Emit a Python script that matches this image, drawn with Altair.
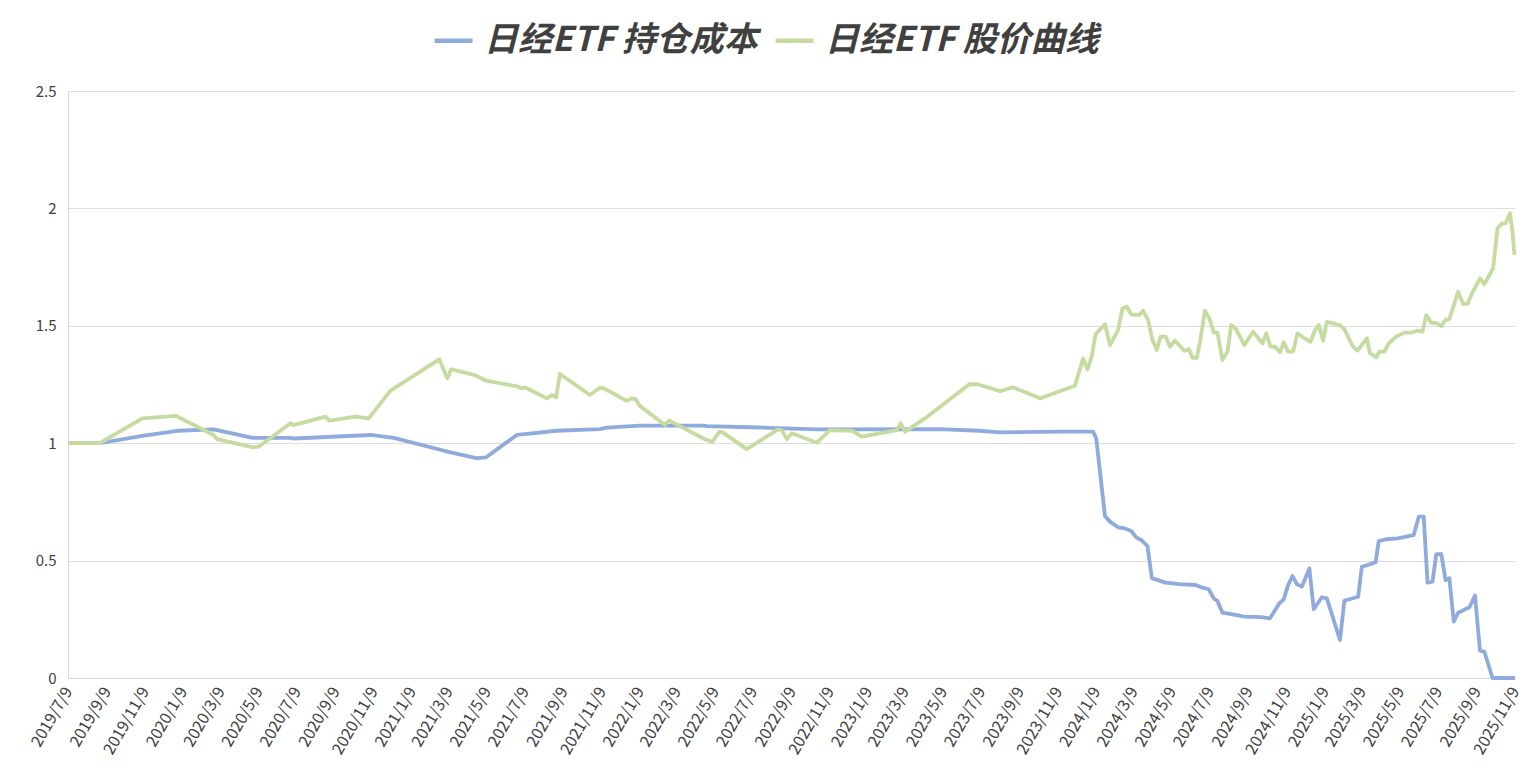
import altair as alt
import pandas as pd

series_names = ["日经ETF 持仓成本", "日经ETF 股价曲线"]
series_colors = ["#8FAADC", "#C5DBA0"]

cost_dates = [
    "2019-07-09", "2019-08-29", "2019-11-05", "2019-12-31", "2020-02-27", "2020-04-29",
    "2020-06-29", "2020-07-04", "2020-11-04", "2020-12-11", "2021-02-27", "2021-03-07",
    "2021-04-22", "2021-05-08", "2021-06-26", "2021-07-12", "2021-08-29", "2021-11-06",
    "2021-11-17", "2022-01-09", "2022-04-20", "2022-04-26", "2022-07-04", "2022-10-19",
    "2023-05-03", "2023-07-06", "2023-08-08", "2023-11-12", "2024-01-04", "2024-01-09",
    "2024-01-23", "2024-01-31", "2024-02-13", "2024-02-24", "2024-03-05", "2024-03-13",
    "2024-03-21", "2024-03-31", "2024-04-07", "2024-04-13", "2024-04-29", "2024-05-21",
    "2024-06-16", "2024-06-25", "2024-07-07", "2024-07-15", "2024-07-21", "2024-07-29",
    "2024-08-14", "2024-09-02", "2024-09-29", "2024-10-13", "2024-10-28", "2024-11-04",
    "2024-11-11", "2024-11-18", "2024-11-25", "2024-12-03", "2024-12-15", "2024-12-22",
    "2025-01-04", "2025-01-12", "2025-02-02", "2025-02-09", "2025-03-03", "2025-03-09",
    "2025-03-24", "2025-03-31", "2025-04-05", "2025-04-17", "2025-05-05", "2025-05-19",
    "2025-05-31", "2025-06-08", "2025-06-16", "2025-06-22", "2025-06-30", "2025-07-06",
    "2025-07-14", "2025-07-21", "2025-07-27", "2025-08-03", "2025-08-10", "2025-08-28",
    "2025-09-06", "2025-09-14", "2025-09-21", "2025-10-04", "2025-11-09",
]
cost_values = [
    1.0, 1.0, 1.031, 1.053, 1.059, 1.023,
    1.023, 1.020, 1.035, 1.023, 0.970, 0.964,
    0.936, 0.940, 1.035, 1.040, 1.053, 1.060,
    1.066, 1.075, 1.075, 1.073, 1.068, 1.059,
    1.060, 1.053, 1.046, 1.049, 1.049, 1.021,
    0.690, 0.666, 0.642, 0.637, 0.626, 0.599,
    0.588, 0.562, 0.425, 0.420, 0.406, 0.400,
    0.396, 0.386, 0.378, 0.339, 0.328, 0.278,
    0.271, 0.261, 0.259, 0.254, 0.318, 0.335,
    0.396, 0.434, 0.400, 0.389, 0.467, 0.293,
    0.344, 0.339, 0.162, 0.329, 0.346, 0.474,
    0.486, 0.493, 0.583, 0.591, 0.595, 0.602,
    0.609, 0.687, 0.687, 0.406, 0.410, 0.527,
    0.528, 0.417, 0.425, 0.240, 0.278, 0.301,
    0.351, 0.116, 0.112, 0.0, 0.0,
]

price_dates = [
    "2019-07-09", "2019-08-29", "2019-11-05", "2019-12-29", "2020-02-27", "2020-03-03",
    "2020-04-29", "2020-05-09", "2020-06-29", "2020-07-04", "2020-08-24", "2020-08-30",
    "2020-10-11", "2020-11-01", "2020-12-06", "2021-02-22", "2021-03-07", "2021-03-13",
    "2021-04-20", "2021-05-08", "2021-06-28", "2021-07-03", "2021-07-09", "2021-08-13",
    "2021-08-21", "2021-08-28", "2021-09-03", "2021-10-21", "2021-11-06", "2021-11-12",
    "2021-12-19", "2021-12-27", "2022-01-02", "2022-01-09", "2022-02-18", "2022-02-25",
    "2022-04-23", "2022-05-05", "2022-05-16", "2022-05-22", "2022-06-29", "2022-08-18",
    "2022-08-24", "2022-09-01", "2022-09-09", "2022-10-19", "2022-11-09", "2022-12-14",
    "2022-12-30", "2023-02-24", "2023-03-02", "2023-03-09", "2023-04-12", "2023-06-20",
    "2023-07-03", "2023-08-08", "2023-08-29", "2023-10-11", "2023-12-06", "2023-12-19",
    "2023-12-26", "2024-01-02", "2024-01-08", "2024-01-23", "2024-01-31", "2024-02-13",
    "2024-02-20", "2024-02-27", "2024-03-05", "2024-03-18", "2024-03-24", "2024-04-01",
    "2024-04-08", "2024-04-15", "2024-04-21", "2024-04-29", "2024-05-06", "2024-05-14",
    "2024-05-29", "2024-06-05", "2024-06-11", "2024-06-18", "2024-06-23", "2024-07-01",
    "2024-07-08", "2024-07-15", "2024-07-21", "2024-07-29", "2024-08-06", "2024-08-12",
    "2024-08-19", "2024-09-02", "2024-09-16", "2024-10-01", "2024-10-07", "2024-10-14",
    "2024-10-21", "2024-10-29", "2024-11-04", "2024-11-11", "2024-11-19", "2024-11-26",
    "2024-12-06", "2024-12-17", "2024-12-24", "2024-12-30", "2025-01-06", "2025-01-12",
    "2025-02-01", "2025-02-09", "2025-02-22", "2025-03-02", "2025-03-17", "2025-03-22",
    "2025-04-01", "2025-04-06", "2025-04-14", "2025-04-21", "2025-05-03", "2025-05-16",
    "2025-05-27", "2025-06-06", "2025-06-14", "2025-06-20", "2025-06-28", "2025-07-06",
    "2025-07-14", "2025-07-21", "2025-07-27", "2025-08-10", "2025-08-18", "2025-08-25",
    "2025-09-03", "2025-09-14", "2025-09-21", "2025-10-05", "2025-10-12", "2025-10-19",
    "2025-10-25", "2025-11-01", "2025-11-05", "2025-11-08",
]
price_values = [
    1.0, 1.0, 1.106, 1.116, 1.035, 1.017,
    0.983, 0.985, 1.085, 1.077, 1.113, 1.096,
    1.113, 1.106, 1.224, 1.357, 1.276, 1.315,
    1.290, 1.266, 1.241, 1.234, 1.238, 1.191,
    1.205, 1.196, 1.295, 1.205, 1.236, 1.234,
    1.180, 1.191, 1.188, 1.158, 1.078, 1.096,
    1.017, 1.006, 1.049, 1.045, 0.975, 1.059,
    1.056, 1.017, 1.042, 1.002, 1.056, 1.053,
    1.028, 1.056, 1.085, 1.049, 1.109, 1.251,
    1.251, 1.222, 1.238, 1.191, 1.245, 1.361,
    1.315, 1.372, 1.464, 1.506, 1.418, 1.482,
    1.575, 1.581, 1.549, 1.546, 1.564, 1.525,
    1.440, 1.397, 1.454, 1.454, 1.411, 1.437,
    1.393, 1.401, 1.364, 1.364, 1.432, 1.564,
    1.532, 1.471, 1.471, 1.354, 1.390, 1.504,
    1.489, 1.418, 1.475, 1.425, 1.468, 1.411,
    1.411, 1.387, 1.430, 1.390, 1.390, 1.468,
    1.449, 1.432, 1.482, 1.503, 1.437, 1.517,
    1.503, 1.486, 1.415, 1.394, 1.447, 1.383,
    1.366, 1.390, 1.390, 1.425, 1.454, 1.471,
    1.471, 1.479, 1.475, 1.546, 1.513, 1.511,
    1.499, 1.525, 1.529, 1.645, 1.593, 1.593,
    1.648, 1.702, 1.677, 1.745, 1.915, 1.936,
    1.936, 1.979, 1.901, 1.802,
]

tick_dates = [
    "2019-07-09", "2019-09-09", "2019-11-09", "2020-01-09", "2020-03-09", "2020-05-09",
    "2020-07-09", "2020-09-09", "2020-11-09", "2021-01-09", "2021-03-09", "2021-05-09",
    "2021-07-09", "2021-09-09", "2021-11-09", "2022-01-09", "2022-03-09", "2022-05-09",
    "2022-07-09", "2022-09-09", "2022-11-09", "2023-01-09", "2023-03-09", "2023-05-09",
    "2023-07-09", "2023-09-09", "2023-11-09", "2024-01-09", "2024-03-09", "2024-05-09",
    "2024-07-09", "2024-09-09", "2024-11-09", "2025-01-09", "2025-03-09", "2025-05-09",
    "2025-07-09", "2025-09-09", "2025-11-09",
]
y_ticks = [0, 0.5, 1, 1.5, 2, 2.5]


def to_ms(d):
    return int(pd.Timestamp(d, tz="UTC").value // 10**6)


df = pd.concat([
    pd.DataFrame({"date": cost_dates, "value": cost_values, "series": series_names[0]}),
    pd.DataFrame({"date": price_dates, "value": price_values, "series": series_names[1]}),
], ignore_index=True)

font = "Noto Sans CJK SC"

chart = alt.Chart(df).mark_line(strokeWidth=3.8, strokeJoin="round").encode(
    x=alt.X(
        "date:T",
        title=None,
        scale=alt.Scale(type="utc", domain=[to_ms(tick_dates[0]), to_ms(tick_dates[-1])]),
        axis=alt.Axis(
            values=[to_ms(d) for d in tick_dates],
            format="%Y/%-m/%-d",
            labelAngle=-60,
            labelAlign="right",
            labelBaseline="middle",
            labelPadding=10,
            labelFontSize=16,
            labelFont=font,
            labelColor="#404040",
            labelOverlap=False,
            labelBound=False,
            labelFlush=False,
            ticks=False,
            grid=False,
            domainColor="#D9D9D9",
            domainWidth=1,
        ),
    ),
    y=alt.Y(
        "value:Q",
        title=None,
        scale=alt.Scale(domain=[0, 2.5], nice=False, zero=True),
        axis=alt.Axis(
            values=y_ticks,
            format="~g",
            labelFontSize=15,
            labelFont=font,
            labelColor="#404040",
            labelPadding=12,
            ticks=False,
            grid=True,
            gridColor="#DDDDDD",
            gridWidth=1,
            domainColor="#D9D9D9",
            domainWidth=1,
        ),
    ),
    color=alt.Color(
        "series:N",
        scale=alt.Scale(domain=series_names, range=series_colors),
        legend=alt.Legend(
            title=None,
            orient="none",
            direction="horizontal",
            legendX=364,
            legendY=-72,
            symbolType="stroke",
            symbolSize=1444,
            symbolStrokeWidth=4.5,
            labelFontSize=34,
            labelFont=font,
            labelFontWeight="bold",
            labelFontStyle="italic",
            labelColor="#404040",
            labelOffset=9,
            labelLimit=500,
            columnPadding=8,
            padding=0,
        ),
    ),
).properties(
    width=1447,
    height=587,
    autosize=alt.AutoSizeParams(type="none"),
    padding={"left": 60, "top": 83, "right": 10, "bottom": 82},
).configure_view(stroke=None)

chart.save("out.html", embed_options={"renderer": "svg", "actions": False})
